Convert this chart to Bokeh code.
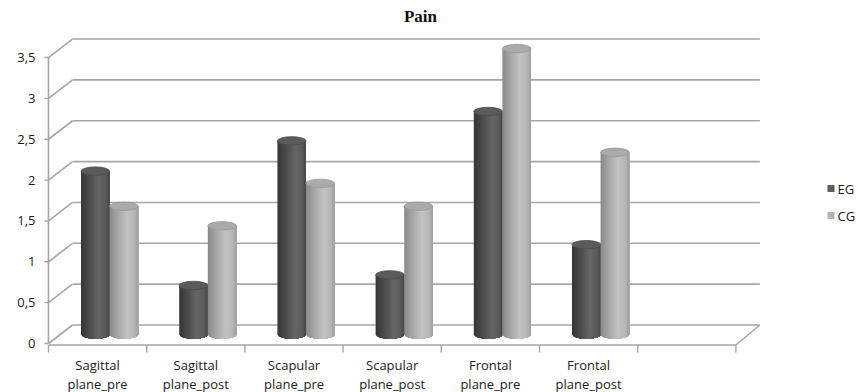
import numpy as np
from bokeh.plotting import figure
from bokeh.models import Range1d, Label
from bokeh.core.properties import value
from bokeh.embed import file_html
from bokeh.resources import INLINE

# ---- data -------------------------------------------------------------
categories = ["Sagittal\nplane_pre", "Sagittal\nplane_post",
              "Scapular\nplane_pre", "Scapular\nplane_post",
              "Frontal\nplane_pre", "Frontal\nplane_post"]
eg = [2.0, 0.6, 2.37, 0.73, 2.73, 1.1]
cg = [1.57, 1.33, 1.85, 1.57, 3.5, 2.23]
series_names = ["EG", "CG"]
y_ticks = [0, 0.5, 1, 1.5, 2, 2.5, 3, 3.5]
y_tick_labels = ["0", "0,5", "1", "1,5", "2", "2,5", "3", "3,5"]
n_slots = 7  # category slots on the floor (last one left empty)

# ---- canvas / scale ---------------------------------------------------
W, H = 858, 392
PX_X = 98.2      # pixels per category slot
PX_Y = 81.7      # pixels per value unit
ORIGIN_X, ORIGIN_Y = 48, 343

p = figure(width=W, height=H, output_backend="svg", toolbar_location=None,
           x_range=Range1d(-ORIGIN_X / PX_X, (W - ORIGIN_X) / PX_X),
           y_range=Range1d(-(H - ORIGIN_Y) / PX_Y, ORIGIN_Y / PX_Y),
           min_border=0)
p.axis.visible = False
p.grid.visible = False
p.outline_line_color = None
p.background_fill_color = "white"
p.border_fill_color = "white"

# depth offset of the back wall, in data units
DX = 24 / PX_X
DY = 18.5 / PX_Y
GRID = "#a6a6a6"
FONT = value("Open Sans")
TEXT = "#1a1a1a"

# ---- walls and floor --------------------------------------------------
for v in y_ticks:
    # back wall line
    p.line([DX, n_slots + DX], [v + DY, v + DY], line_color=GRID, line_width=1.6)
    # side wall diagonal
    p.line([0, DX], [v, v + DY], line_color=GRID, line_width=1.6)
    # outward tick on the value axis
    p.line([-4 / PX_X, 0], [v, v], line_color=GRID, line_width=1.4)

# value axis line
p.line([0, 0], [0, y_ticks[-1]], line_color=GRID, line_width=1.6)
# floor front edge and right edge
p.line([0, n_slots], [-1.5 / PX_Y, -1.5 / PX_Y], line_color=GRID, line_width=1.6)
p.line([n_slots, n_slots + DX], [-1.5 / PX_Y, DY], line_color=GRID, line_width=1.6)
# category boundary ticks
for k in range(n_slots + 1):
    p.line([k, k], [-1.5 / PX_Y, -9 / PX_Y], line_color=GRID, line_width=1.4)

# ---- cylinders --------------------------------------------------------
def hex_to_rgb(h):
    h = h.lstrip("#")
    return np.array([int(h[i:i + 2], 16) for i in (0, 2, 4)], dtype=float)

def shade(stops, t):
    ts = [s[0] for s in stops]
    cols = [hex_to_rgb(s[1]) for s in stops]
    for i in range(len(ts) - 1):
        if ts[i] <= t <= ts[i + 1]:
            f = (t - ts[i]) / (ts[i + 1] - ts[i])
            c = cols[i] * (1 - f) + cols[i + 1] * f
            return "#%02x%02x%02x" % tuple(int(round(x)) for x in c)
    c = cols[-1]
    return "#%02x%02x%02x" % tuple(int(x) for x in c)

body_stops = {
    "EG": [(0, "#363636"), (0.25, "#474747"), (0.62, "#666666"), (0.88, "#5a5a5a"), (1, "#454545")],
    "CG": [(0, "#8a8a8a"), (0.25, "#a3a3a3"), (0.62, "#c3c3c3"), (0.88, "#b5b5b5"), (1, "#9c9c9c")],
}
cap_color = {"EG": "#5b5b5b", "CG": "#aaaaaa"}
cap_edge = {"EG": "#4a4a4a", "CG": "#989898"}

MID_DX = 12 / PX_X          # bars sit half way into the depth
MID_DY = 9 / PX_Y
R = 14.3 / PX_X              # cylinder radius (x)
HB = 4.2 / PX_Y              # ellipse half height (y)
N_STRIPS = 24

for s_idx, (name, vals) in enumerate(zip(series_names, [eg, cg])):
    for i, v in enumerate(vals):
        cx = i + 0.5 + MID_DX + (R if s_idx == 1 else -R)
        base = MID_DY
        top = v + MID_DY
        xs_list, ys_list, cols = [], [], []
        edges = np.linspace(cx - R, cx + R, N_STRIPS + 1)
        # each strip runs to the right edge and is painted over by the next,
        # so the shading has no seams
        for j in range(N_STRIPS):
            xx = np.linspace(edges[j], cx + R, 40)
            yb = base - HB * np.sqrt(np.clip(1 - ((xx - cx) / R) ** 2, 0, 1))
            xs_list.append([edges[j]] + list(xx) + [cx + R])
            ys_list.append([top] + list(yb) + [top])
            cols.append(shade(body_stops[name], (j + 0.5) / N_STRIPS))
        p.patches(xs_list, ys_list, fill_color=cols, line_color=None)
        p.ellipse(x=[cx], y=[top], width=[2 * R], height=[2 * HB],
                  fill_color=cap_color[name], line_color=cap_edge[name], line_width=0.8)

# ---- category labels --------------------------------------------------
centers = [i + 0.5 for i in range(len(categories))]
first = [c.split("\n")[0] for c in categories]
second = [c.split("\n")[1] for c in categories]
p.text(x=centers, y=[(ORIGIN_Y - 364) / PX_Y] * len(centers), text=first,
       text_font=FONT, text_font_size="13px", text_color=TEXT,
       text_align="center", text_baseline="middle")
p.text(x=centers, y=[(ORIGIN_Y - 383) / PX_Y] * len(centers), text=second,
       text_font=FONT, text_font_size="13px", text_color=TEXT,
       text_align="center", text_baseline="middle")

# ---- value tick labels -----------------------------------------------
p.text(x=[-13 / PX_X] * len(y_ticks), y=y_ticks, text=y_tick_labels,
       text_font=FONT, text_font_size="13px", text_color=TEXT,
       text_align="right", text_baseline="middle")

# ---- title -----------------------------------------------------------
p.add_layout(Label(x=420, y=H - 16, x_units="screen", y_units="screen",
                   text="Pain", text_font="Liberation Serif", text_font_style="bold",
                   text_font_size="17px", text_align="center", text_baseline="middle",
                   text_color="#111111"))

# ---- legend ----------------------------------------------------------
legend_colors = {"EG": "#5e5e5e", "CG": "#b3b3b3"}
for k, name in enumerate(series_names):
    y_px = 188 + 27 * k
    p.rect(x=[(830.5 - ORIGIN_X) / PX_X], y=[(ORIGIN_Y - y_px) / PX_Y],
           width=[7 / PX_X], height=[7 / PX_Y], fill_color=legend_colors[name],
           line_color=None)
    p.add_layout(Label(x=837, y=H - y_px, x_units="screen", y_units="screen",
                       text=name, text_font="Open Sans", text_font_size="13px",
                       text_color=TEXT, text_baseline="middle"))

open("out.html", "w").write(file_html(p, INLINE))
